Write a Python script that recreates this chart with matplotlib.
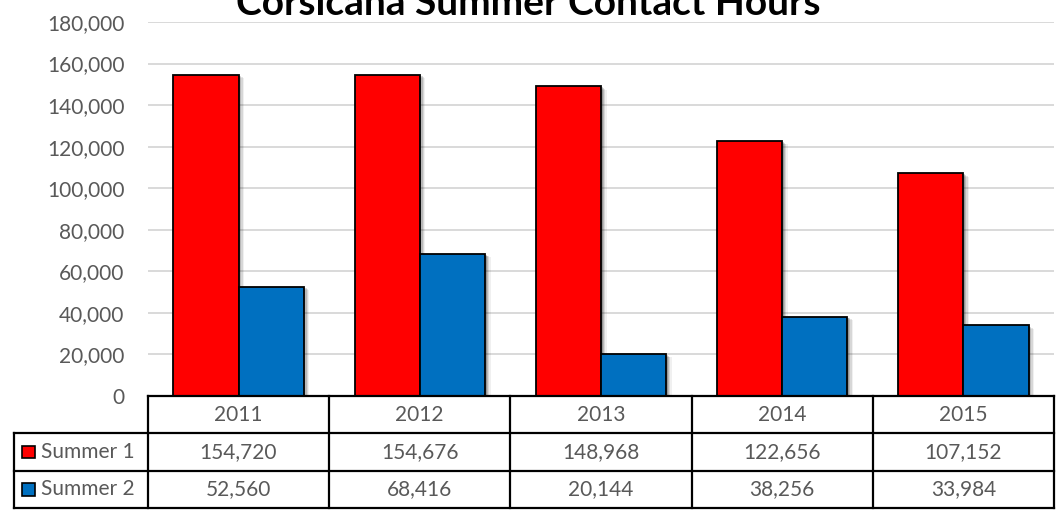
import numpy as np
import matplotlib
matplotlib.use("Agg")
import matplotlib.pyplot as plt
import matplotlib.ticker as ticker
import matplotlib.patheffects as pe
from matplotlib.patches import Rectangle

years = ["2011", "2012", "2013", "2014", "2015"]
summer1 = [154720, 154676, 148968, 122656, 107152]
summer2 = [52560, 68416, 20144, 38256, 33984]
series_names = ["Summer 1", "Summer 2"]
series_colors = ["#FF0000", "#0070C0"]

W, H = 1056, 514
TEXT_GRAY = "#595959"

plt.rcParams["font.family"] = ["Lato", "DejaVu Sans"]


def px_box(left, top, right, bottom):
    # convert pixel box (from top-left) into figure fraction rect
    return [left / W, 1 - bottom / H, (right - left) / W, (bottom - top) / H]


def draw_bars(ax):
    x = np.arange(len(years))
    width = 0.36
    # soft drop shadow, built from a few stacked translucent offsets
    shadow = [pe.SimplePatchShadow(offset=(o, -o * 0.6), shadow_rgbFace="#000000", alpha=a)
              for o, a in [(4.0, 0.06), (3.0, 0.10), (2.0, 0.14), (1.2, 0.18)]]
    shadow.append(pe.Normal())
    for offset, values, color in [(-width / 2, summer1, series_colors[0]),
                                  (width / 2, summer2, series_colors[1])]:
        bars = ax.bar(x + offset, values, width, color=color,
                      edgecolor="black", linewidth=1.3, zorder=3)
        for b in bars:
            b.set_path_effects(shadow)

    ax.set_xlim(-0.5, len(years) - 0.5)
    ax.set_ylim(0, 180000)
    ax.yaxis.set_major_locator(ticker.MultipleLocator(20000))
    ax.yaxis.set_major_formatter(ticker.FuncFormatter(lambda v, p: "{:,.0f}".format(v)))
    ax.grid(True, axis="y", color="#D9D9D9", linewidth=1.4, zorder=0)
    ax.set_xticks([])
    ax.tick_params(axis="y", length=0, pad=17, labelsize=15, labelcolor=TEXT_GRAY)
    for s in ax.spines.values():
        s.set_visible(False)


def draw_table(tax):
    n = len(years)
    label_w = 134 / 181.4
    left = -0.5 - label_w
    tax.set_xlim(left, n - 0.5)
    tax.set_ylim(3, 0)
    tax.axis("off")

    lw = 1.6
    tax.plot([-0.5, n - 0.5], [0, 0], color="black", lw=lw, clip_on=False)
    for yy in [1, 2, 3]:
        tax.plot([left, n - 0.5], [yy, yy], color="black", lw=lw, clip_on=False)
    tax.plot([left, left], [1, 3], color="black", lw=lw, clip_on=False)
    for xx in np.arange(n + 1) - 0.5:
        tax.plot([xx, xx], [0, 3], color="black", lw=lw, clip_on=False)

    for i, yr in enumerate(years):
        tax.text(i, 0.5, yr, ha="center", va="center", fontsize=15, color=TEXT_GRAY)
        tax.text(i, 1.5, "{:,}".format(summer1[i]), ha="center", va="center",
                 fontsize=15, color=TEXT_GRAY)
        tax.text(i, 2.5, "{:,}".format(summer2[i]), ha="center", va="center",
                 fontsize=15, color=TEXT_GRAY)

    key = 13 / 181.4
    for r, (name, color) in enumerate(zip(series_names, series_colors)):
        kx = left + 8 / 181.4
        tax.add_patch(Rectangle((kx, r + 1.5 - 0.17), key, 0.34, facecolor=color,
                                edgecolor="black", lw=1.2, clip_on=False))
        tax.text(left + 27 / 181.4, r + 1.5, name, ha="left", va="center",
                 fontsize=15, color=TEXT_GRAY)


def main():
    fig = plt.figure(figsize=(W / 100, H / 100), dpi=100)
    ax = fig.add_axes(px_box(148, 22, 1054, 396))
    draw_bars(ax)

    tax = fig.add_axes(px_box(14, 396, 1054, 508))
    draw_table(tax)

    fig.text(0.5, 1 - 15 / H, "Corsicana Summer Contact Hours", ha="center",
             va="baseline", fontsize=28, fontweight="bold", color="black")
    fig.savefig("out.png", dpi=100)


main()
